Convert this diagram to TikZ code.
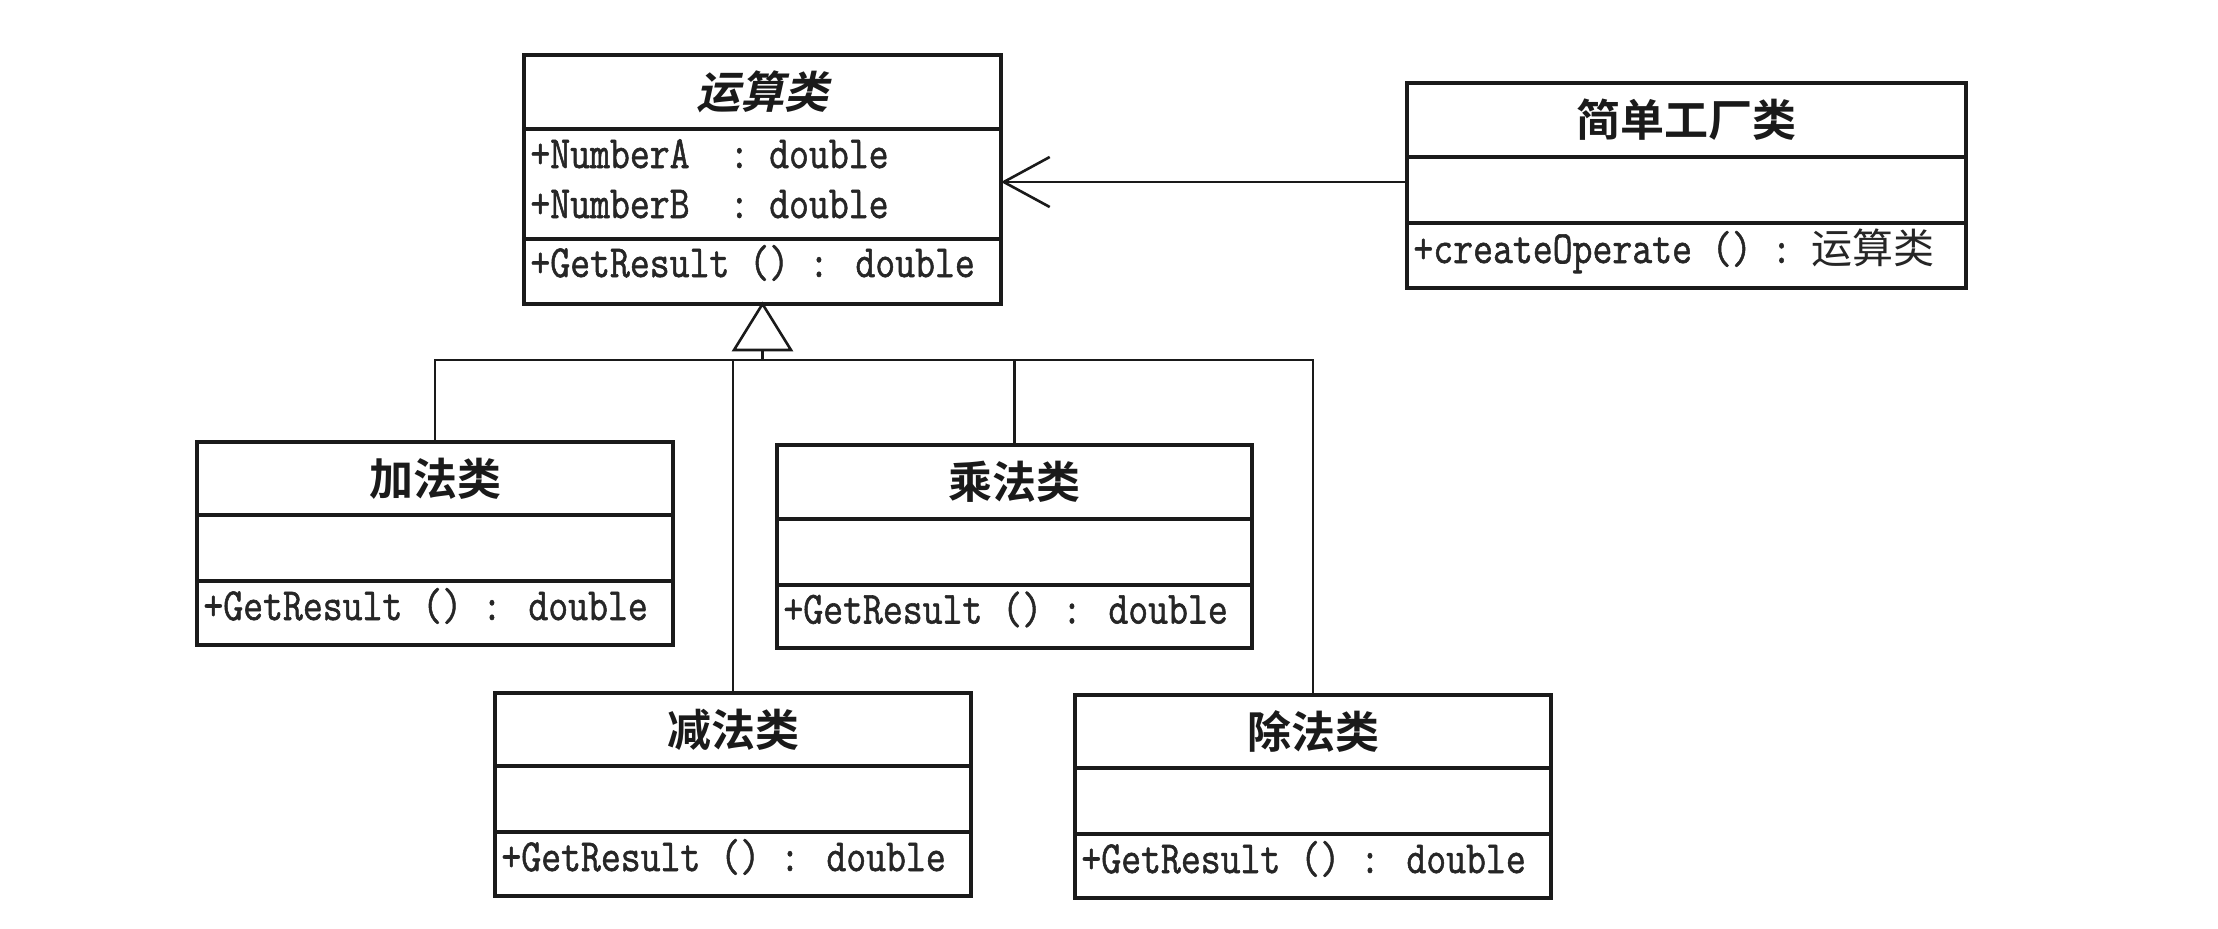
\documentclass[tikz,border=0pt]{standalone}
\usepackage{fontspec}
\usepackage{graphicx}
\usetikzlibrary{arrows.meta,calc,fit}

% Chinese faces: bold for class names, regular for member types
\newfontfamily\cjkregular{Noto Sans CJK SC}
\newfontfamily\cjkbold{Noto Sans CJK SC}[UprightFont={* Bold}]
\newfontfamily\cjkboldslant{Noto Sans CJK SC}[UprightFont={* Bold},FakeSlant=0.22]
% slightly heavier typewriter face for members
\newfontfamily\memberfont{Latin Modern Mono}[FakeBold=1.3]

% member lines in a condensed typewriter face
\newcommand\member[1]{\scalebox{0.84}[1]{\fontsize{23}{23}\selectfont\memberfont #1}}

\definecolor{ink}{HTML}{1A1A1A}
\definecolor{textink}{HTML}{262626}

\tikzset{
  classbox/.style={draw=ink, line width=1.7pt, inner sep=0pt, outer sep=0pt},
  classline/.style={draw=ink, line width=1.7pt},
  connline/.style={draw=ink, line width=1.3pt},
  titletext/.style={inner sep=0pt, text=ink, font=\fontsize{22}{22}\selectfont\cjkbold},
  membertext/.style={inner sep=0pt, anchor=base west, text=textink},
}

% class frame: name, left, top, right, first divider, second divider, bottom
\newcommand\classframe[7]{%
  \coordinate (#1-nw) at (#2,#3);
  \coordinate (#1-se) at (#4,#7);
  \node[classbox, fit=(#1-nw)(#1-se)] (#1) {};
  \draw[classline] (#1.west |- 0,#5) -- (#1.east |- 0,#5);
  \draw[classline] (#1.west |- 0,#6) -- (#1.east |- 0,#6);
}

\begin{document}
\begin{tikzpicture}[x=0.5pt, y=-0.5pt]
  \path[use as bounding box, fill=white] (0,0) rectangle (2218,928);

  % abstract operation class
  \classframe{op}{524}{55}{1001}{129}{239}{304}
  \node[titletext, font=\fontsize{22}{22}\selectfont\cjkboldslant] (op-name) at (762.5,92) {运算类};
  \node[membertext] (op-a) at (530,168) {\member{+NumberA\ \ : double}};
  \node[membertext] (op-b) at (530,218) {\member{+NumberB\ \ : double}};
  \node[membertext] (op-m) at (530,277) {\member{+GetResult () : double}};

  % factory class
  \classframe{fac}{1407}{83}{1966}{157}{223}{288}
  \node[titletext] (fac-name) at (1686.5,120) {简单工厂类};
  \node[membertext] (fac-m) at (1413,263) {\member{+createOperate () :\ }{\fontsize{20.5}{20.5}\selectfont\cjkregular 运算类}};

  % concrete operations
  \classframe{add}{197}{442}{673}{515}{581}{645}
  \node[titletext] (add-name) at (435,478.5) {加法类};
  \node[membertext] (add-m) at (203,620) {\member{+GetResult () : double}};

  \classframe{mul}{777}{445}{1252}{519}{585}{648}
  \node[titletext] (mul-name) at (1014.5,482) {乘法类};
  \node[membertext] (mul-m) at (783,623.5) {\member{+GetResult () : double}};

  \classframe{sub}{495}{693}{971}{766}{832}{896}
  \node[titletext] (sub-name) at (733,729.5) {减法类};
  \node[membertext] (sub-m) at (501,871) {\member{+GetResult () : double}};

  \classframe{div}{1075}{695}{1551}{768}{834}{898}
  \node[titletext] (div-name) at (1313,731.5) {除法类};
  \node[membertext] (div-m) at (1081,873) {\member{+GetResult () : double}};

  % generalization: shared bus and hollow triangle
  \coordinate (bus) at (0,360);
  \draw[connline] (add.north) -- (add.north |- bus) -- (div.north |- bus) -- (div.north);
  \draw[connline] (mul.north) -- (mul.north |- bus);
  \draw[connline] (sub.north) -- (sub.north |- bus);
  \coordinate (tri-base) at ($(op.south)+(0,46)$);
  \draw[connline] (tri-base) -- (op.south |- bus);
  \draw[connline, fill=white, line join=miter] (op.south) -- ($(tri-base)+(-28.5,0)$) -- ($(tri-base)+(28.5,0)$) -- cycle;

  % association: factory creates operations
  \coordinate (assoc) at (0,182);
  \draw[connline, -{Straight Barb[length=23pt,width=25pt]}] (fac.west |- assoc) -- (op.east |- assoc);
\end{tikzpicture}
\end{document}
